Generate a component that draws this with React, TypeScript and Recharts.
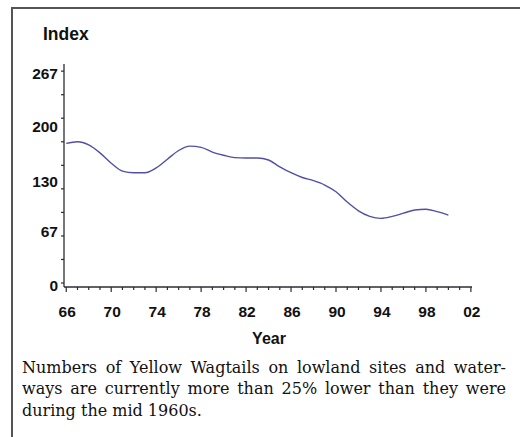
import React from "react";
import { LineChart, Line, XAxis, YAxis } from "recharts";

const years = [
  1966, 1967, 1968, 1969, 1970, 1971, 1972, 1973, 1974, 1975, 1976, 1977,
  1978, 1979, 1980, 1981, 1982, 1983, 1984, 1985, 1986, 1987, 1988, 1989,
  1990, 1991, 1992, 1993, 1994, 1995, 1996, 1997, 1998, 1999, 2000,
];
const indexValues = [
  176, 178, 174, 164, 151, 141, 139, 139, 145, 156, 167, 172.5,
  171, 165, 161, 158, 157.5, 157.5, 155, 146.5, 139, 133, 129, 123.5,
  115, 102, 91, 84, 81.5, 84, 88, 92, 93, 90, 85.6,
];

const xTickYears = [
  1966, 1967, 1968, 1969, 1970, 1971, 1972, 1973, 1974, 1975, 1976, 1977,
  1978, 1979, 1980, 1981, 1982, 1983, 1984, 1985, 1986, 1987, 1988, 1989,
  1990, 1991, 1992, 1993, 1994, 1995, 1996, 1997, 1998, 1999, 2000, 2001,
  2002,
];
const xLabelYears = [1966, 1970, 1974, 1978, 1982, 1986, 1990, 1994, 1998, 2002];
const xLabelText = ["66", "70", "74", "78", "82", "86", "90", "94", "98", "02"];

const yTickMarks = [0, 29.7, 59.3, 89, 118.7, 148.3, 178, 207.7, 237.3, 267];
const yLabelValues = [0, 67, 130, 200, 267];
const yLabelText = ["0", "67", "130", "200", "267"];

const captionLines = [
  "Numbers of Yellow Wagtails on lowland sites and water-",
  "ways are currently more than 25% lower than they were",
  "during the mid 1960s.",
];

const data = years.map((y, i) => ({ year: y, value: indexValues[i] }));
const yAllTicks = Array.from(new Set([...yTickMarks, ...yLabelValues])).sort((a, b) => a - b);

const axisColor = "#2e2a33";
const sansBold = { fontFamily: "'Liberation Sans', Arial, sans-serif", fontWeight: 700 };

const YTick = (props: any) => {
  const { x, y, payload } = props;
  const v = payload.value;
  const li = yLabelValues.indexOf(v);
  return (
    <g>
      {yTickMarks.includes(v) && (
        <line x1={x - 3} x2={x} y1={y} y2={y} stroke={axisColor} strokeWidth={1.2} />
      )}
      {li >= 0 && (
        <text x={x - 6} y={y + 7.5} textAnchor="end" fontSize={15.5} fill="#111" style={sansBold}>
          {yLabelText[li]}
        </text>
      )}
    </g>
  );
};

const XTick = (props: any) => {
  const { x, y, payload } = props;
  const v = payload.value;
  const li = xLabelYears.indexOf(v);
  return (
    <g>
      <line x1={x} x2={x} y1={y} y2={y + (li >= 0 ? 5 : 3)} stroke={axisColor} strokeWidth={1.2} />
      {li >= 0 && (
        <text x={x + 1} y={y + 30} textAnchor="middle" fontSize={15.5} fill="#111" style={sansBold}>
          {xLabelText[li]}
        </text>
      )}
    </g>
  );
};

export default function App() {
  return (
    <div style={{ position: "absolute", left: 0, top: 0, width: 520, height: 437, background: "#fff", overflow: "hidden" }}>
      <div style={{ position: "absolute", left: 11, top: 7, width: 509, height: 0, borderTop: "2px solid #555" }} />
      <div style={{ position: "absolute", left: 11, top: 7, width: 0, height: 430, borderLeft: "2px solid #555" }} />
      <div style={{ position: "absolute", left: 43, top: 26, fontSize: 17.5, lineHeight: "17.5px", color: "#111", ...sansBold }}>
        Index
      </div>
      <LineChart
        width={520}
        height={437}
        data={data}
        margin={{ top: 64, right: 48, bottom: 110, left: 14 }}
        style={{ position: "absolute", left: 0, top: 0 }}
      >
        <XAxis
          dataKey="year"
          type="number"
          domain={[1965.8, 2002.1]}
          ticks={xTickYears}
          interval={0}
          tick={<XTick />}
          tickLine={false}
          tickSize={0}
          tickMargin={0}
          height={40}
          axisLine={{ stroke: axisColor, strokeWidth: 1.3 }}
        />
        <YAxis
          type="number"
          domain={[-5, 276]}
          ticks={yAllTicks}
          interval={0}
          tick={<YTick />}
          tickLine={false}
          tickSize={0}
          tickMargin={0}
          width={50}
          axisLine={{ stroke: axisColor, strokeWidth: 1.3 }}
          allowDataOverflow
        />
        <Line
          type="monotone"
          dataKey="value"
          stroke="#4f4fa8"
          strokeWidth={1.4}
          dot={false}
          isAnimationActive={false}
        />
      </LineChart>
      <div style={{ position: "absolute", left: 229, width: 80, top: 331, textAlign: "center", fontSize: 16, lineHeight: "16px", color: "#111", ...sansBold }}>
        Year
      </div>
      <div
        style={{
          position: "absolute",
          left: 22,
          top: 357,
          width: 484,
          fontFamily: "'DejaVu Serif', serif",
          fontSize: 16,
          lineHeight: "21.3px",
          color: "#111",
        }}
      >
        {captionLines.map((line, i) => (
          <div
            key={i}
            style={i < captionLines.length - 1 ? { textAlign: "justify", textAlignLast: "justify", whiteSpace: "nowrap" } : { whiteSpace: "nowrap" }}
          >
            {line}
          </div>
        ))}
      </div>
    </div>
  );
}
